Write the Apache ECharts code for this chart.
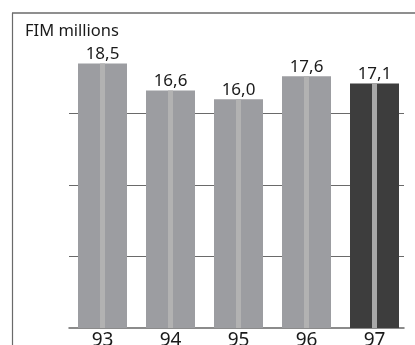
<!DOCTYPE html>
<html><head><meta charset="utf-8">
<script src="https://cdn.jsdelivr.net/npm/echarts@6/dist/echarts.min.js"></script>
<style>html,body{margin:0;padding:0;background:#fff}#c{width:415px;height:345px}</style>
</head><body><div id="c"></div>
<script>
const categories = ['93', '94', '95', '96', '97'];
const values = [18.5, 16.6, 16.0, 17.6, 17.1];
const highlightIndex = 4;
const yTicks = [0, 5, 10, 15, 20];
const unitLabel = 'FIM millions';

const chart = echarts.init(document.getElementById('c'), null, {renderer: 'canvas'});
const font = '"Noto Sans", "Open Sans", sans-serif';
const fmt = v => v.toFixed(1).replace('.', ',');

chart.setOption({
  animation: false,
  grid: [
    {left: 68.5, right: 6.5, top: 42, bottom: 17, outerBoundsMode: 'none', containLabel: false},
    {left: 69, right: 11, top: 42, bottom: 17, outerBoundsMode: 'none', containLabel: false}
  ],
  title: {text: unitLabel, left: 20, top: 18, textStyle: {fontFamily: font, fontSize: 16.5, fontWeight: 'normal', color: '#1a1a1a'}},
  xAxis: [
    {type: 'category', data: categories, gridIndex: 0, axisLine: {show: false}, axisTick: {show: false},
     axisLabel: {fontFamily: font, fontSize: 19, color: '#1a1a1a', margin: 3.5}},
    {type: 'category', data: categories, gridIndex: 0, show: false},
    {type: 'category', data: categories, gridIndex: 1, axisLine: {show: true, lineStyle: {color: '#666', width: 1.5}},
     axisTick: {show: false}, axisLabel: {show: false}}
  ],
  yAxis: [
    {type: 'value', gridIndex: 0, min: yTicks[0], max: yTicks[yTicks.length - 1], interval: 5, show: false, splitLine: {show: false}},
    {type: 'value', gridIndex: 1, min: yTicks[0], max: yTicks[yTicks.length - 1], interval: 5,
     axisLine: {show: false}, axisTick: {show: false}, axisLabel: {show: false},
     splitLine: {show: true, showMaxLine: false, showMinLine: false, lineStyle: {color: '#6a6a6a', width: 1.2}}}
  ],
  series: [
    {type: 'bar', xAxisIndex: 0, yAxisIndex: 0, barWidth: 49, z: 3,
     data: values.map((v, i) => ({value: v, itemStyle: {color: i === highlightIndex ? '#3d3d3d' : '#9c9da1'}})),
     label: {show: true, position: 'top', distance: 1, fontFamily: font, fontSize: 17, color: '#1a1a1a',
             formatter: p => fmt(p.value)}},
    {type: 'bar', xAxisIndex: 1, yAxisIndex: 0, barWidth: 5, z: 4, silent: true,
     data: values.map((v, i) => ({value: v, itemStyle: {color: i === highlightIndex ? '#a8a8a8' : '#b2b2b2'}}))}
  ],
  graphic: [
    {type: 'line', shape: {x1: 12, y1: 13, x2: 415, y2: 13}, style: {stroke: '#6a6a6a', lineWidth: 1.5}},
    {type: 'line', shape: {x1: 12.5, y1: 13, x2: 12.5, y2: 345}, style: {stroke: '#6a6a6a', lineWidth: 1.2}}
  ]
});
</script></body></html>
